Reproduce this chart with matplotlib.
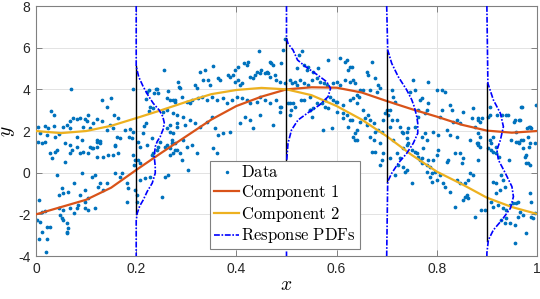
import matplotlib
matplotlib.use('Agg')

import matplotlib.pyplot as plt
from matplotlib.lines import Line2D

plt.rcParams['mathtext.fontset'] = 'cm'
plt.rcParams['font.family'] = ['Liberation Sans', 'DejaVu Sans']

data_x = [0.069, 0.256, 0.193, 0.149, 0.131, 0.141, 0.030, 0.035, 0.073, 0.081, 0.088, 0.098, 0.102, 0.067, 0.104, 0.121, 0.114, 0.132, 0.156, 0.164,
          0.003, 0.018, 0.035, 0.024, 0.061, 0.053, 0.068, 0.094, 0.108, 0.148, 0.154, 0.141, 0.178, 0.188, 0.194, 0.008, 0.021, 0.045, 0.038, 0.081,
          0.091, 0.122, 0.128, 0.161, 0.168, 0.186, 0.191, 0.003, 0.011, 0.018, 0.058, 0.068, 0.108, 0.114, 0.121, 0.158,
          0.219, 0.221, 0.226, 0.240, 0.242, 0.236, 0.244, 0.228, 0.234, 0.226, 0.261, 0.264, 0.274, 0.277, 0.284, 0.286, 0.254, 0.261, 0.274, 0.281,
          0.219, 0.216, 0.261, 0.268, 0.281, 0.274, 0.214, 0.231, 0.248, 0.257, 0.271, 0.277, 0.204, 0.208,
          0.121, 0.128, 0.158, 0.028, 0.038, 0.041, 0.031, 0.058, 0.068, 0.071, 0.081, 0.088, 0.094, 0.104, 0.111, 0.121, 0.134, 0.144, 0.154, 0.164,
          0.158, 0.194, 0.198, 0.196, 0.168, 0.171, 0.181, 0.184, 0.182, 0.041, 0.091, 0.111, 0.128, 0.118, 0.141, 0.051, 0.054, 0.045, 0.075, 0.064,
          0.088, 0.098, 0.104, 0.098, 0.124, 0.134, 0.045, 0.054, 0.068, 0.075, 0.081, 0.084, 0.098, 0.104, 0.118, 0.005, 0.048, 0.051, 0.054, 0.061,
          0.064, 0.061, 0.061, 0.001, 0.008, 0.011, 0.005, 0.021, 0.020, 0.021, 0.028, 0.011, 0.018, 0.198, 0.201, 0.201,
          0.221, 0.231, 0.234, 0.241, 0.244, 0.261, 0.268, 0.277, 0.287, 0.204, 0.208, 0.208, 0.218, 0.228, 0.257, 0.264, 0.251,
          0.446, 0.494, 0.497, 0.530, 0.524, 0.424, 0.421, 0.415, 0.404, 0.397, 0.467, 0.470, 0.474, 0.490, 0.583, 0.607, 0.617, 0.620, 0.627, 0.623,
          0.520, 0.534, 0.540, 0.543, 0.553, 0.563, 0.354, 0.337, 0.327, 0.287,
          0.317, 0.321, 0.334, 0.344, 0.347, 0.364, 0.367, 0.384, 0.387, 0.394, 0.397, 0.404, 0.407, 0.411, 0.427, 0.434, 0.437, 0.441, 0.447, 0.450,
          0.457, 0.461, 0.464, 0.467, 0.477, 0.480, 0.487, 0.497,
          0.507, 0.510, 0.517, 0.520, 0.527, 0.534, 0.543, 0.550, 0.560, 0.567, 0.574, 0.580, 0.593, 0.600, 0.607, 0.617, 0.627, 0.637,
          0.267, 0.277, 0.291, 0.301, 0.307, 0.311, 0.324, 0.331, 0.341, 0.351, 0.361, 0.374, 0.381, 0.391, 0.401, 0.411, 0.421, 0.427, 0.441, 0.447,
          0.457, 0.467, 0.480, 0.487, 0.507, 0.517, 0.534, 0.547, 0.560, 0.577, 0.587, 0.600, 0.613, 0.627, 0.641,
          0.267, 0.281, 0.294, 0.297, 0.307, 0.317, 0.327, 0.341, 0.351, 0.357, 0.364, 0.374, 0.387, 0.407, 0.417, 0.427, 0.434, 0.447, 0.474, 0.487,
          0.490, 0.507, 0.547, 0.573, 0.590, 0.600, 0.613, 0.627, 0.633, 0.637, 0.271, 0.294, 0.311,
          0.267, 0.274, 0.281, 0.291, 0.301, 0.321, 0.354, 0.361, 0.304,
          0.513, 0.509, 0.529, 0.546, 0.553, 0.570, 0.576, 0.583, 0.593, 0.599, 0.613, 0.620, 0.630, 0.636, 0.623, 0.550, 0.503,
          0.670, 0.660, 0.663, 0.630, 0.633, 0.647, 0.653, 0.641, 0.644, 0.633, 0.677, 0.683, 0.687, 0.667, 0.680,
          0.653, 0.663, 0.657, 0.667, 0.674, 0.660, 0.647, 0.641, 0.677, 0.683, 0.690, 0.667, 0.641, 0.674, 0.687, 0.693, 0.697, 0.700,
          0.710, 0.713, 0.716, 0.707, 0.703, 0.710, 0.720, 0.733, 0.740, 0.743, 0.707, 0.727, 0.730, 0.713, 0.740, 0.743,
          0.753, 0.757, 0.747, 0.783, 0.766, 0.770, 0.763, 0.783, 0.780, 0.776, 0.763, 0.770, 0.776, 0.780, 0.757, 0.793, 0.803, 0.810, 0.816, 0.800,
          0.826, 0.830, 0.810, 0.806, 0.833, 0.840, 0.846, 0.820, 0.826, 0.840, 0.853, 0.872, 0.870, 0.883, 0.890, 0.876, 0.866, 0.880, 0.883,
          0.903, 0.906, 0.920, 0.930, 0.939, 0.956, 0.966, 0.970, 0.980, 0.986, 0.999, 0.996, 0.986, 0.973, 0.959, 0.913, 0.906,
          0.906, 0.969, 0.965, 0.955, 0.985, 0.989, 0.942, 0.959, 0.969, 0.982, 0.965, 0.985, 0.979, 0.982,
          0.882, 0.886, 0.882, 0.886, 0.882, 0.909, 0.919, 0.925, 0.912, 0.949, 0.962, 0.945,
          0.670, 0.677, 0.690, 0.687, 0.693, 0.707, 0.720, 0.727, 0.723, 0.733, 0.740, 0.737, 0.717,
          0.733, 0.740, 0.750, 0.756, 0.760, 0.763, 0.766, 0.770, 0.780, 0.783, 0.770, 0.773, 0.800, 0.803, 0.793, 0.786, 0.780, 0.790, 0.796,
          0.750, 0.786, 0.790, 0.800, 0.806, 0.813, 0.820, 0.823, 0.836, 0.846, 0.850, 0.853, 0.816, 0.826, 0.840, 0.846, 0.856, 0.863, 0.866, 0.872,
          0.856, 0.863, 0.876, 0.836, 0.860, 0.853, 0.886, 0.883, 0.889, 0.896,
          0.903, 0.909, 0.919, 0.913, 0.919, 0.929, 0.932, 0.936, 0.926, 0.919, 0.909, 0.912, 0.922, 0.932, 0.939, 0.946, 0.952, 0.959, 0.962, 0.939,
          0.929, 0.936, 0.946, 0.956, 0.962, 0.966, 0.973, 0.979, 0.956, 0.986, 0.989, 0.989, 0.992, 0.996, 0.973, 0.976, 0.986, 0.979]
data_y = [4.02, 4.93, 4.00, 3.57, 3.49, 3.17, 2.96, 2.75, 2.61, 2.58, 2.61, 2.56, 2.48, 2.48, 2.77, 2.56, 2.37, 2.50, 2.77, 2.61,
          2.21, 2.24, 2.24, 2.13, 2.29, 2.21, 2.13, 2.21, 2.13, 2.29, 2.16, 2.05, 2.05, 2.10, 1.97, 1.89, 1.81, 1.86, 1.73, 1.73,
          1.57, 1.57, 1.52, 1.73, 1.65, 1.73, 1.65, 1.49, 1.41, 1.46, 1.41, 1.33, 1.25, 1.17, 1.25, 1.28,
          3.52, 3.89, 3.97, 4.00, 4.02, 3.81, 3.81, 3.17, 3.09, 2.96, 3.60, 3.94, 3.49, 3.41, 4.37, 4.10, 2.93, 3.01, 2.85, 2.77,
          2.37, 2.24, 2.13, 2.29, 2.37, 1.89, 1.89, 1.65, 1.49, 1.25, 1.57, 1.41, 1.49, 1.25,
          1.49, 1.44, 1.33, 0.93, 1.01, 1.09, 0.69, 0.53, 0.93, 1.09, 1.25, 0.93, 1.01, 0.93, 1.17, 0.77, 0.77, 0.85, 0.85, 0.93,
          -0.03, 0.85, 0.61, 0.37, -0.19, -0.03, -0.51, -0.75, -1.39, -0.11, -0.03, -0.19, -0.51, -0.11, -0.51, -0.75, -0.99, -1.07, -0.51, -0.91,
          -1.07, -0.83, -1.23, -1.39, -0.67, -0.83, -1.71, -1.79, -1.71, -1.95, -1.71, -1.55, -1.71, -1.79, -1.71, -1.31, -2.03, -2.19, -2.27, -2.43,
          -2.67, -2.83, -2.91, -2.27, -2.35, -2.83, -3.19, -3.19, -3.83, -2.59, -2.59, -1.87, -1.83, -0.83, -1.07, -1.39,
          1.33, 0.85, 0.93, 1.09, 1.25, 1.33, 0.85, 1.09, 0.93, 0.61, 0.45, -0.35, -0.27, -0.19, -0.19, -0.11, -1.15,
          5.86, 5.89, 6.40, 5.86, 5.65, 5.33, 5.17, 5.25, 5.09, 4.93, 5.33, 5.25, 5.17, 5.25, 5.41, 5.49, 5.33, 5.41, 5.09, 4.93,
          5.01, 5.17, 4.93, 5.09, 4.85, 5.01, 5.12, 4.93, 4.85, 4.05,
          4.21, 4.05, 4.45, 4.45, 4.21, 4.53, 4.45, 4.69, 4.61, 4.69, 4.37, 4.45, 4.21, 4.29, 4.61, 4.53, 4.69, 4.85, 4.77, 4.93,
          4.77, 4.85, 4.77, 4.61, 4.69, 4.45, 4.37, 4.29,
          4.45, 4.29, 4.37, 4.21, 4.45, 4.29, 4.21, 4.45, 4.53, 4.37, 4.29, 4.21, 4.29, 4.37, 4.21, 4.45, 4.37, 4.29,
          3.49, 3.49, 3.65, 3.41, 3.33, 3.49, 3.57, 3.65, 3.49, 3.65, 3.49, 3.57, 3.33, 3.49, 3.65, 3.57, 3.49, 3.33, 3.41, 3.65,
          3.49, 3.33, 3.49, 3.17, 3.33, 3.17, 3.49, 3.65, 3.33, 3.49, 3.65, 3.41, 3.25, 3.49, 3.33,
          1.97, 2.21, 2.69, 2.29, 2.53, 2.37, 2.21, 2.45, 2.69, 2.13, 1.81, 1.89, 1.97, 2.37, 2.69, 2.53, 2.13, 2.77, 2.29, 2.93,
          3.17, 2.77, 3.01, 2.05, 2.13, 2.93, 2.61, 2.53, 1.73, 1.57, 1.41, 1.57, 1.33,
          1.17, 0.93, 1.09, 0.61, 1.25, 0.93, 1.17, 0.93, 0.13,
          3.33, 3.01, 3.49, 3.01, 3.09, 3.33, 3.17, 3.09, 3.49, 3.41, 2.85, 2.77, 2.53, 1.89, 2.21, 2.69, 3.33,
          5.33, 4.85, 4.69, 5.09, 4.45, 3.97, 3.97, 3.73, 3.65, 3.57, 4.53, 4.21, 4.05, 3.97, 3.89,
          3.01, 2.77, 2.61, 2.53, 2.37, 2.29, 2.45, 2.05, 1.97, 2.05, 1.97, 1.73, 1.57, 1.57, 1.41, 2.53, 2.85, 3.01,
          3.97, 3.65, 3.41, 3.01, 2.77, 2.53, 2.53, 1.89, 1.97, 2.13, 2.21, 2.21, 1.97, 1.57, 1.65, 1.41,
          4.45, 3.97, 3.89, 4.37, 3.49, 3.57, 3.01, 3.33, 3.01, 2.85, 2.69, 1.73, 1.89, 1.57, 2.21, 1.97, 1.81, 3.97, 3.89, 3.97,
          3.25, 3.01, 3.01, 2.69, 2.45, 2.53, 2.37, 2.05, 1.81, 1.73, 2.93, 3.09, 2.61, 2.53, 2.61, 2.21, 1.57, 1.41, 1.33,
          2.69, 2.77, 2.77, 2.77, 2.77, 2.53, 2.53, 3.17, 2.13, 2.21, 3.25, 1.41, 1.41, 1.57, 1.49, 1.73, 1.57,
          3.17, 3.17, 2.53, 2.45, 2.21, 2.13, 2.77, 1.97, 1.57, 1.73, 1.41, 1.25, 0.85, 0.45,
          2.61, 2.45, 1.89, 1.73, 1.41, 1.41, 0.93, 0.77, 1.01, 1.57, 1.49, 0.61,
          1.01, 1.01, 0.61, 0.37, 0.93, 0.69, 0.93, 0.69, 0.37, 0.29, 0.13, 0.05, -0.11,
          1.17, 1.33, 1.09, 1.01, 0.93, 0.77, 0.61, 0.45, 0.37, 0.61, 0.69, 1.17, 0.85, 1.09, 0.61, 0.29, 0.05, -0.03, 0.05,
          -0.51, -0.19, -0.43, -0.35, -0.11, -0.51, 0.53, 0.61, 0.93, 0.93, 0.45, 0.69, -0.67, -0.91, -0.35, -0.51, -0.51, -0.35, -0.03, -0.11,
          -1.15, -1.23, -2.11, -1.63, -1.07, -1.31, 1.25, 0.61, -1.79, -1.79,
          1.17, 1.09, 1.25, -0.43, -0.51, -0.11, -0.35, -0.67, -0.83, -0.99, -1.39, -1.63, -1.55, -1.71, -1.79, -1.55, -1.47, -1.47, -1.39, -2.19,
          -2.27, -2.43, -2.43, -2.51, -2.11, -1.87, -2.03, -2.91, -3.39, -0.99, -1.39, -2.11, -2.19, -1.95, 1.17, 0.77, 0.37, 0.45]

# fitted mixture components
comp_x = [0.0, 0.05, 0.1, 0.15, 0.2, 0.25, 0.3, 0.35, 0.4, 0.45, 0.5, 0.55, 0.6, 0.65, 0.7, 0.75, 0.8, 0.85, 0.9, 0.95, 1.0]
comp1_y = [-2.0, -1.65, -1.3, -0.72, 0.13, 0.95, 1.75, 2.55, 3.2, 3.65, 4.0, 4.1, 4.08, 3.85, 3.44, 3.05, 2.69, 2.3, 2.02, 1.92, 2.0]
comp2_y = [2.0, 1.9, 2.0, 2.25, 2.62, 3.0, 3.4, 3.77, 3.97, 4.07, 4.0, 3.72, 3.2, 2.55, 1.75, 0.85, 0.05, -0.55, -1.2, -1.65, -1.98]

# response PDFs at four x positions: y grid and pdf width (x units)
pdf_at = [0.2, 0.5, 0.7, 0.9]
pdf_y = [
    [8, 5.1, 4.6, 4.13, 3.7, 3.33, 3.0, 2.7, 2.4, 2.1, 1.73, 1.5, 1.25, 0.77, 0.3, -0.02, -0.5, -0.9, -1.31, -1.6, -1.95, -2.3, -4],
    [8, 6.45, 6.2, 5.89, 5.41, 5.09, 4.69, 4.37, 4.05, 3.65, 3.25, 2.93, 2.53, 2.05, 1.41, 0.46, -4],
    [8, 5.89, 5.25, 4.61, 3.97, 3.5, 3.17, 2.7, 2.37, 1.89, 1.41, 0.93, 0.45, -0.03, -0.43, -4],
    [8, 4.29, 3.49, 2.85, 2.21, 1.57, 1.09, 0.61, -0.03, -0.67, -1.15, -1.71, -2.27, -2.75, -3.23, -3.86, -4],
]
pdf_w = [
    [0, 0, 0.005, 0.014, 0.024, 0.034, 0.046, 0.053, 0.056, 0.054, 0.048, 0.042, 0.038, 0.036, 0.038, 0.038, 0.032, 0.022, 0.014, 0.007, 0.002, 0, 0],
    [0, 0, 0.003, 0.013, 0.022, 0.038, 0.062, 0.080, 0.088, 0.083, 0.066, 0.046, 0.023, 0.010, 0.003, 0, 0],
    [0, 0.002, 0.010, 0.023, 0.040, 0.050, 0.055, 0.060, 0.062, 0.062, 0.053, 0.040, 0.023, 0.010, 0.002, 0],
    [0, 0.002, 0.013, 0.027, 0.033, 0.027, 0.020, 0.023, 0.037, 0.050, 0.053, 0.047, 0.030, 0.013, 0.003, 0, 0],
]
# extent of the black guide line at each PDF position
guide_lo = [-2.0, 0.46, -0.43, -3.3]
guide_hi = [5.1, 6.45, 5.89, 4.29]

fig = plt.figure(figsize=(5.4, 2.99), dpi=100)
ax = fig.add_axes([0.0667, 0.1438, 0.9277, 0.836])

ax.plot(data_x, data_y, '.', color='#0072BD', markersize=3.4, zorder=2)
ax.plot(comp_x, comp1_y, '-', color='#D95319', lw=1.6, zorder=3)
ax.plot(comp_x, comp2_y, '-', color='#EDB120', lw=1.6, zorder=3)

pdf_dash = (3.5, 1.0, 1.0, 1.0)
for i, x0 in enumerate(pdf_at):
    ax.plot([x0, x0], [guide_lo[i], guide_hi[i]], color='black', lw=1.0, zorder=4)
    xs = [x0 + w for w in pdf_w[i]]
    ax.plot(xs, pdf_y[i], '-.', color='blue', lw=1.2, dashes=pdf_dash, zorder=5)

ax.set_xlim(0, 1)
ax.set_ylim(-4, 8)
ax.set_xticks([0, 0.2, 0.4, 0.6, 0.8, 1])
ax.set_xticklabels(['0', '0.2', '0.4', '0.6', '0.8', '1'])
ax.set_yticks([-4, -2, 0, 2, 4, 6, 8])
ax.set_yticklabels(['-4', '-2', '0', '2', '4', '6', '8'])
ax.grid(True, color='#e3e3e3', lw=0.7)
ax.set_axisbelow(True)
ax.tick_params(direction='in', top=True, right=True, length=4, width=0.7,
               color='#808080', labelcolor='#262626', labelsize=10, pad=4)
for s in ax.spines.values():
    s.set_color('#808080')
    s.set_linewidth(0.8)

ax.set_xlabel('$x$', fontsize=14, labelpad=1)
ax.set_ylabel('$y$', fontsize=14)
ax.yaxis.set_label_coords(-0.037, 0.5)

handles = [
    Line2D([], [], ls='none', marker='.', color='#0072BD', markersize=3),
    Line2D([], [], color='#D95319', lw=1.6),
    Line2D([], [], color='#EDB120', lw=1.6),
    Line2D([], [], color='blue', lw=1.2, ls='-.', dashes=pdf_dash),
]
labels = [r'$\mathrm{Data}$', r'$\mathrm{Component\ 1}$', r'$\mathrm{Component\ 2}$', r'$\mathrm{Response\ PDFs}$']
leg = ax.legend(handles, labels, loc='lower center', bbox_to_anchor=(0.497, 0.028),
                fontsize=12.0, frameon=True, fancybox=False, framealpha=1,
                edgecolor='#808080', handlelength=1.5, handletextpad=0.12,
                labelspacing=0.16, borderpad=0.22, borderaxespad=0)
leg.get_frame().set_linewidth(0.8)
leg.set_zorder(10)

fig.savefig('out.png', dpi=100)
